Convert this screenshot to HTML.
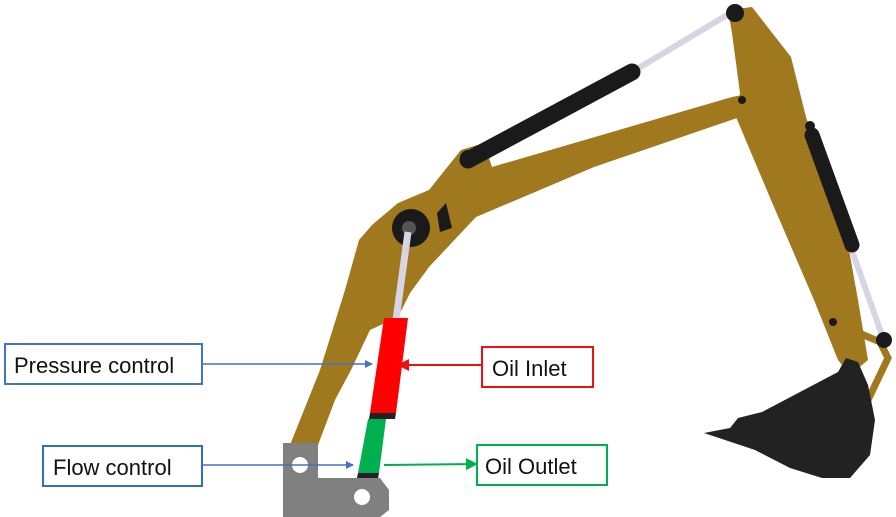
<!DOCTYPE html>
<html><head><meta charset="utf-8"><style>
html,body{margin:0;padding:0;background:#fff;}
svg{display:block}
text{font-family:"Liberation Sans",sans-serif;font-size:22px;fill:#111}
</style></head><body>
<svg width="896" height="517" viewBox="0 0 896 517" xmlns="http://www.w3.org/2000/svg">
<defs>
<marker id="ab" markerWidth="8" markerHeight="8" refX="7" refY="4" orient="auto" markerUnits="userSpaceOnUse"><path d="M0,0 L8,4 L0,8 z" fill="#4472C4"/></marker>
<marker id="ar" markerWidth="12" markerHeight="12" refX="11" refY="6" orient="auto" markerUnits="userSpaceOnUse"><path d="M0,0 L12,6 L0,12 z" fill="#EE1111"/></marker>
<marker id="ag" markerWidth="12" markerHeight="12" refX="11" refY="6" orient="auto" markerUnits="userSpaceOnUse"><path d="M0,0 L12,6 L0,12 z" fill="#00B050"/></marker>
</defs>
<!-- arm -->
<polygon fill="#A0781E" points="728,10 752,7 791,57 806,117 846,233 858,300 868,360 850,375 838,360 814,300 771,200 736,117 740,93 732,33"/>
<!-- boom -->
<polygon fill="#A0781E" points="290,445 318,445 335,400 351,370 370,330 398,317 410,293 429,267 476,217 594,167 740,117 742,95 732,97 492,167 484,143 461,150 429,190 398,203 372,225 359,240 345,290 320,370"/>
<!-- boom cylinder -->
<line x1="632" y1="72" x2="732" y2="12" stroke="#D8D4E4" stroke-width="6"/>
<line x1="468" y1="160" x2="632" y2="72" stroke="#1a1a1a" stroke-width="17" stroke-linecap="round"/>
<circle cx="468" cy="158" r="8" fill="#1a1a1a"/>
<circle cx="735" cy="13" r="9" fill="#1a1a1a"/>
<circle cx="742" cy="100" r="4" fill="#1a1a1a"/>
<!-- arm cylinder -->
<line x1="850" y1="245" x2="882" y2="335" stroke="#D8D4E4" stroke-width="6"/>
<line x1="812" y1="135" x2="852" y2="245" stroke="#1a1a1a" stroke-width="15" stroke-linecap="round"/>
<circle cx="810" cy="126" r="5" fill="#1a1a1a"/>
<!-- linkage -->
<polyline points="833,322 880,342 888,358 868,400" fill="none" stroke="#A0781E" stroke-width="7"/>
<circle cx="833" cy="322" r="4" fill="#1a1a1a"/>
<circle cx="884" cy="340" r="8" fill="#1a1a1a"/>
<!-- bucket -->
<polygon fill="#222" points="704,433 730,428 738,418 762,412 800,392 838,372 846,358 858,362 868,385 875,420 870,455 850,478 822,478 790,468 755,450"/>
<!-- elbow joint -->
<circle cx="411" cy="228" r="19" fill="#1a1a1a"/>
<circle cx="409" cy="228" r="7" fill="#555"/>
<polygon fill="#1a1a1a" points="437,213 446,203 452,228 440,232"/>
<!-- lower cylinder -->
<line x1="408" y1="232" x2="396" y2="320" stroke="#D8D4E4" stroke-width="7"/>
<polygon fill="#FF0000" points="384,318 408,318 396,413 370,413"/>
<polygon fill="#222" points="370,413 396,413 395,419 369,419"/>
<polygon fill="#00B050" points="368,419 386,419 379,473 358,473"/>
<polygon fill="#222" points="358,473 379,473 378,478 357,478"/>
<!-- base -->
<polygon fill="#808080" points="283,443 318,443 318,478 380,478 389,490 389,510 380,517 283,517"/>
<circle cx="300" cy="465" r="8" fill="#fff"/>
<circle cx="362" cy="497" r="8" fill="#fff"/>
<!-- labels -->
<rect x="5" y="344" width="197" height="40" fill="#fff" stroke="#4472C4" stroke-width="2"/>
<text x="14" y="373">Pressure control</text>
<line x1="202" y1="364" x2="372" y2="364" stroke="#4472C4" stroke-width="1.5" marker-end="url(#ab)"/>
<rect x="482" y="347" width="111" height="40" fill="#fff" stroke="#EE1111" stroke-width="2"/>
<text x="492" y="376">Oil Inlet</text>
<line x1="482" y1="365" x2="398" y2="365" stroke="#EE1111" stroke-width="2" marker-end="url(#ar)"/>
<rect x="43" y="446" width="159" height="40" fill="#fff" stroke="#2E6FC0" stroke-width="2"/>
<text x="53" y="475">Flow control</text>
<line x1="202" y1="465" x2="353" y2="465" stroke="#4472C4" stroke-width="1.5" marker-end="url(#ab)"/>
<rect x="477" y="445" width="130" height="40" fill="#fff" stroke="#00B050" stroke-width="2"/>
<text x="485" y="474">Oil Outlet</text>
<line x1="384" y1="465" x2="477" y2="464" stroke="#00B050" stroke-width="2" marker-end="url(#ag)"/>
</svg>
</body></html>
